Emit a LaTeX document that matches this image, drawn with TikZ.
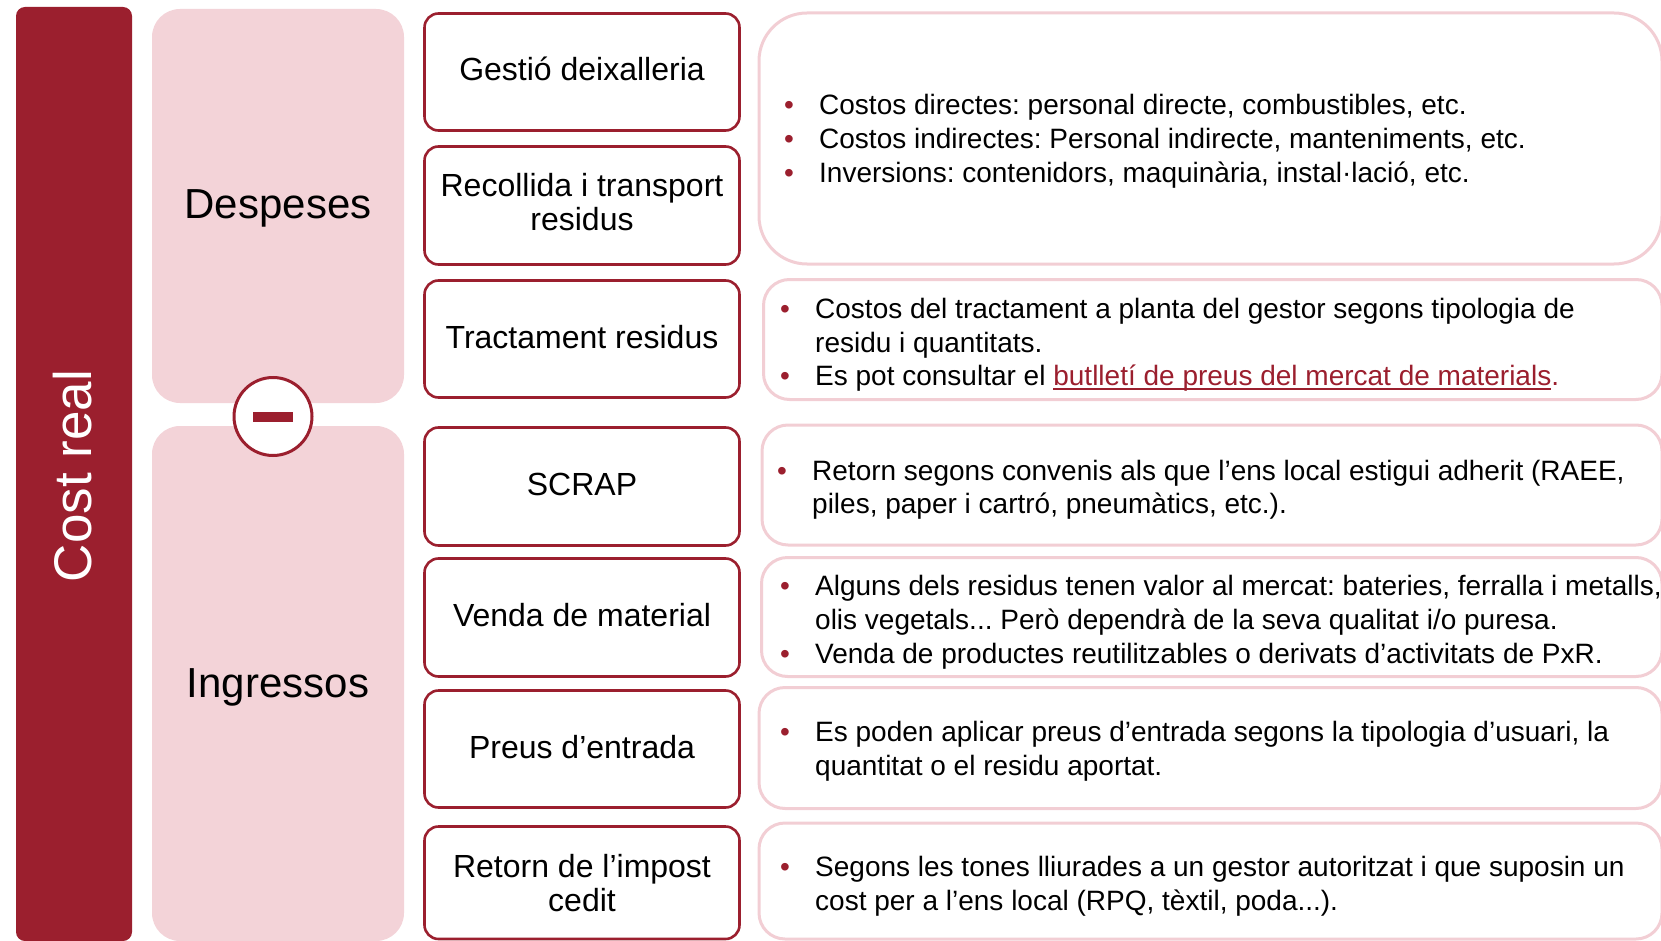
\documentclass[tikz,border=0pt]{standalone}
\usepackage{fontspec}
\setmainfont{Liberation Sans}
\usetikzlibrary{fit}
\frenchspacing
\definecolor{dred}{RGB}{155,31,46}
\definecolor{pinkfill}{RGB}{243,211,216}
\definecolor{pinkline}{RGB}{242,206,212}
\newcommand\bulw{35pt}
\newcommand\bulmark{\makebox[\bulw][l]{\textcolor{dred}{•}}}
\newcommand\bulgap{\hspace*{\bulw}}
\newcommand\linkul[1]{\setbox0\hbox{\color{dred}#1}\rlap{\textcolor{dred}{\rule[-4.5pt]{\wd0}{2pt}}}\box0}
\newcommand\rtext[1]{\parbox[t]{1000pt}{\fontsize{28}{33.8}\selectfont\frenchspacing\raggedright #1}}
\newcommand\ltext[1]{\parbox[t]{320pt}{\fontsize{32}{34}\selectfont\centering #1}}
\tikzset{
  costbar/.style={fill=dred, draw=none, rounded corners=9pt, inner sep=0pt},
  panel/.style={fill=pinkfill, draw=none, rounded corners=28pt, inner sep=0pt},
  itembox/.style={fill=white, draw=dred, line width=2.6pt, rounded corners=14pt, inner sep=0pt},
  descbox/.style={fill=white, draw=pinkline, line width=3pt, rounded corners=26pt, inner sep=0pt},
  itemlabel/.style={anchor=base, inner sep=0pt, text=black},
  desclabel/.style={anchor=base west, inner sep=0pt, text=black},
  bigword/.style={anchor=base, inner sep=0pt, font=\fontsize{42}{46}\selectfont},
}
\begin{document}
\begin{tikzpicture}[x=1pt,y=-1pt]
\useasboundingbox (0,0) rectangle (1661,941);
\clip (0,0) rectangle (1661,941);
% left bar
\node[costbar, fit={(16,7) (132,941)}] (bar) {};
\node[rotate=90, text=white, inner sep=0pt, font=\fontsize{53}{58}\selectfont] (costreal) at (72.3,476) {Cost real};
% panels
\node[panel, fit={(152,9) (404,403)}] (desp) {};
\node[panel, fit={(152,426) (404,941)}] (ingr) {};
\node[bigword] (despt) at (278,219) {Despeses};
\node[bigword] (ingrt) at (278,697.7) {Ingressos};
% minus circle
\node[circle, fill=white, draw=dred, line width=3pt, minimum size=78pt, inner sep=0pt] (minus) at (273,416.5) {};
\node[fill=dred, draw=none, inner sep=0pt, minimum width=40pt, minimum height=10.6pt] (minusbar) at (273,417) {};
% item boxes
\node[itembox, fit={(424.5,13.5) (739.5,130.5)}] (b1) {};
\node[itembox, fit={(424.5,146.5) (739.5,264.5)}] (b2) {};
\node[itembox, fit={(424.5,280.5) (739.5,397.5)}] (b3) {};
\node[itembox, fit={(424.5,427.5) (739.5,545.5)}] (b4) {};
\node[itembox, fit={(424.5,558.5) (739.5,676.5)}] (b5) {};
\node[itembox, fit={(424.5,690.5) (739.5,807.5)}] (b6) {};
\node[itembox, fit={(424.5,826.5) (739.5,939)}] (b7) {};
\node[itemlabel] (t1) at (582,81) {\ltext{Gestió deixalleria}};
\node[itemlabel] (t2) at (582,196.7) {\ltext{Recollida i transport\\residus}};
\node[itemlabel] (t3) at (582,348.3) {\ltext{Tractament residus}};
\node[itemlabel] (t4) at (582,495.2) {\ltext{SCRAP}};
\node[itemlabel] (t5) at (582,626.9) {\ltext{Venda de material}};
\node[itemlabel] (t6) at (582,758.2) {\ltext{Preus d’entrada}};
\node[itemlabel] (t7) at (582,877.3) {\ltext{Retorn de l’impost\\cedit}};
% description boxes
\node[descbox, rounded corners=48pt, fit={(759,13) (1662,264)}] (d1) {};
\node[descbox, fit={(763.5,279.5) (1662,399.5)}] (d2) {};
\node[descbox, fit={(762,425) (1662,545)}] (d3) {};
\node[descbox, fit={(761.5,557.5) (1662,676.5)}] (d4) {};
\node[descbox, fit={(759,687.5) (1662,808.5)}] (d5) {};
\node[descbox, fit={(759,823) (1662,939)}] (d6) {};
\node[desclabel] (e1) at (784,115) {\rtext{%
\bulmark Costos directes: personal directe, combustibles, etc.\\
\bulmark Costos indirectes: Personal indirecte, manteniments, etc.\\
\bulmark Inversions: contenidors, maquinària, instal·lació, etc.}};
\node[desclabel] (e2) at (780,318.3) {\rtext{%
\bulmark Costos del tractament a planta del gestor segons tipologia de\\
\bulgap residu i quantitats.\\
\bulmark Es pot consultar el \linkul{butlletí de preus del mercat de materials}.}};
\node[desclabel] (e3) at (777,480) {\rtext{%
\bulmark Retorn segons convenis als que l’ens local estigui adherit (RAEE,\\
\bulgap piles, paper i cartró, pneumàtics, etc.).}};
\node[desclabel] (e4) at (780,595.6) {\rtext{%
\bulmark Alguns dels residus tenen valor al mercat: bateries, ferralla i metalls,\\
\bulgap olis vegetals... Però dependrà de la seva qualitat i/o puresa.\\
\bulmark Venda de productes reutilitzables o derivats d’activitats de PxR.}};
\node[desclabel] (e5) at (780,741.6) {\rtext{%
\bulmark Es poden aplicar preus d’entrada segons la tipologia d’usuari, la\\
\bulgap quantitat o el residu aportat.}};
\node[desclabel] (e6) at (780,876.2) {\rtext{%
\bulmark Segons les tones lliurades a un gestor autoritzat i que suposin un\\
\bulgap cost per a l’ens local (RPQ, tèxtil, poda...).}};
\end{tikzpicture}
\end{document}
